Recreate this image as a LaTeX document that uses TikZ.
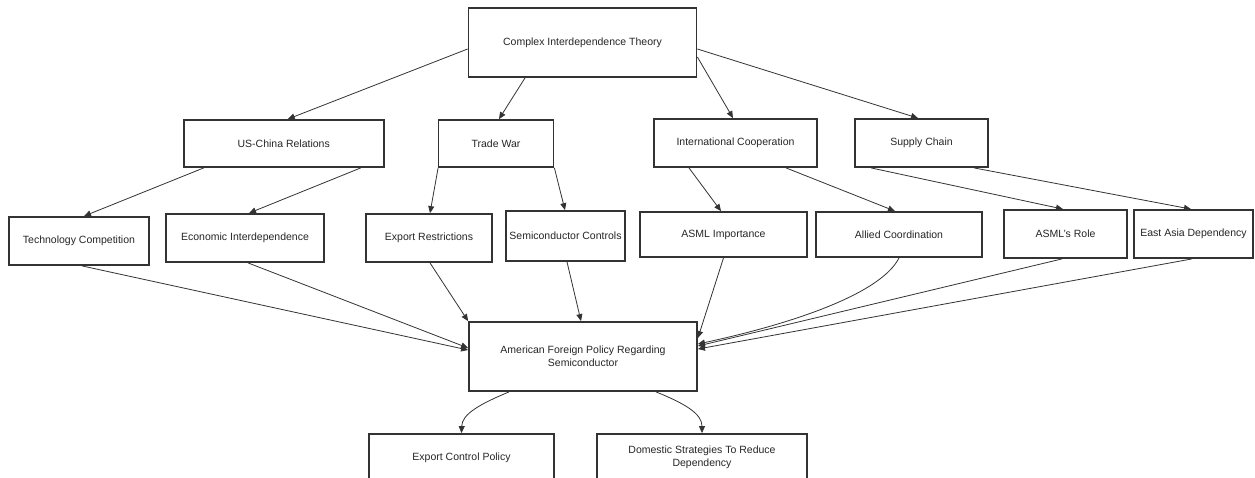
\documentclass[tikz,border=0pt]{standalone}
\usepackage{fontspec}
\setmainfont{Liberation Sans}
\usetikzlibrary{arrows.meta}
\definecolor{ink}{HTML}{333333}
\tikzset{
  box/.style={draw=ink, line width=1.8pt, fill=white, inner sep=0pt, align=center,
    text=black!85, font=\fontsize{10.5}{13}\selectfont},
  conn/.style={draw=ink, line width=0.8pt, -{Triangle[length=7pt,width=6pt]}},
}
\begin{document}
\begin{tikzpicture}[x=1pt,y=-1pt]
\clip (0,0) rectangle (1255,477);
\fill[white] (0,0) rectangle (1255,477);
% nodes
\node[box, minimum width=228pt, minimum height=69pt] (cit) at (582.5,42.5) {Complex Interdependence Theory};
\node[box, minimum width=200pt, minimum height=47pt] (usc) at (283.75,143.5) {US-China Relations};
\node[box, minimum width=115pt, minimum height=47pt] (tw) at (496,143.5) {Trade War};
\node[box, minimum width=163pt, minimum height=48pt] (ic) at (735.5,143) {International Cooperation};
\node[box, minimum width=133pt, minimum height=48pt] (sc) at (921.5,143) {Supply Chain};
\node[box, minimum width=140pt, minimum height=48pt] (tc) at (79,241) {Technology Competition};
\node[box, minimum width=158pt, minimum height=48pt] (ei) at (245,238) {Economic Interdependence};
\node[box, minimum width=126pt, minimum height=48pt] (er) at (429,238) {Export Restrictions};
\node[box, minimum width=119pt, minimum height=50pt] (scn) at (565.5,236) {Semiconductor Controls};
\node[box, minimum width=167pt, minimum height=45pt] (ai) at (723.5,234.5) {ASML Importance};
\node[box, minimum width=166pt, minimum height=45pt] (ac) at (899,234.5) {Allied Coordination};
\node[box, minimum width=123pt, minimum height=48pt] (ar) at (1065.5,234) {ASML's Role};
\node[box, minimum width=119pt, minimum height=48pt] (ead) at (1193.5,234) {East Asia Dependency};
\node[box, minimum width=228pt, minimum height=69pt] (afp) at (583,356.5) {American Foreign Policy Regarding\\Semiconductor};
\node[box, minimum width=185pt, minimum height=47pt] (ecp) at (461.5,457.5) {Export Control Policy};
\node[box, minimum width=210pt, minimum height=47pt] (ds) at (702,457.5) {Domestic Strategies To Reduce\\Dependency};
% connectors: level 1
\draw[conn] ([yshift=-6.5pt]cit.west) -- ([xshift=4pt]usc.north);
\draw[conn] ([xshift=-57.5pt]cit.south) -- ([xshift=3pt]tw.north);
\draw[conn] ([yshift=-14.5pt]cit.east) -- ([xshift=-2.5pt]ic.north);
\draw[conn] ([yshift=-6.5pt]cit.east) -- ([xshift=-3.5pt]sc.north);
% level 2
\draw[conn] ([xshift=-80pt]usc.south) -- ([xshift=5pt]tc.north);
\draw[conn] ([xshift=77pt]usc.south) -- ([xshift=4pt]ei.north);
\draw[conn] ([xshift=0.5pt]tw.south west) -- ([xshift=1pt]er.north);
\draw[conn] (tw.south east) -- ([xshift=-0.5pt]scn.north);
\draw[conn] ([xshift=-46.5pt]ic.south) -- ([xshift=-2.5pt]ai.north);
\draw[conn] ([xshift=50.5pt]ic.south) -- ([xshift=-4pt]ac.north);
\draw[conn] ([xshift=-50.5pt]sc.south) -- ([xshift=-2.5pt]ar.north);
\draw[conn] ([xshift=52.5pt]sc.south) -- ([xshift=-2.5pt]ead.north);
% into AFP
\draw[conn] ([xshift=3pt]tc.south) -- ([yshift=6.5pt]afp.west);
\draw[conn] ([xshift=3pt]ei.south) -- ([yshift=8.5pt]afp.west);
\draw[conn] ([xshift=1pt]er.south) -- (afp.north west);
\draw[conn] ([xshift=1.5pt]scn.south) -- ([xshift=-2pt]afp.north);
\draw[conn] (ai.south) -- ([yshift=18.5pt]afp.east);
\draw[conn] (ac.south) .. controls (882,292) and (800,322) .. ([yshift=12.5pt]afp.east);
\draw[conn] ([xshift=-3.5pt]ar.south) -- ([yshift=10.5pt]afp.east);
\draw[conn] ([xshift=-1.5pt]ead.south) -- ([yshift=7.5pt]afp.east);
% out of AFP
\draw[conn] ([xshift=-74pt]afp.south) .. controls (480,404) and (462,414) .. (ecp.north);
\draw[conn] ([xshift=73pt]afp.south) .. controls (686,404) and (702,414) .. (ds.north);
\end{tikzpicture}
\end{document}
